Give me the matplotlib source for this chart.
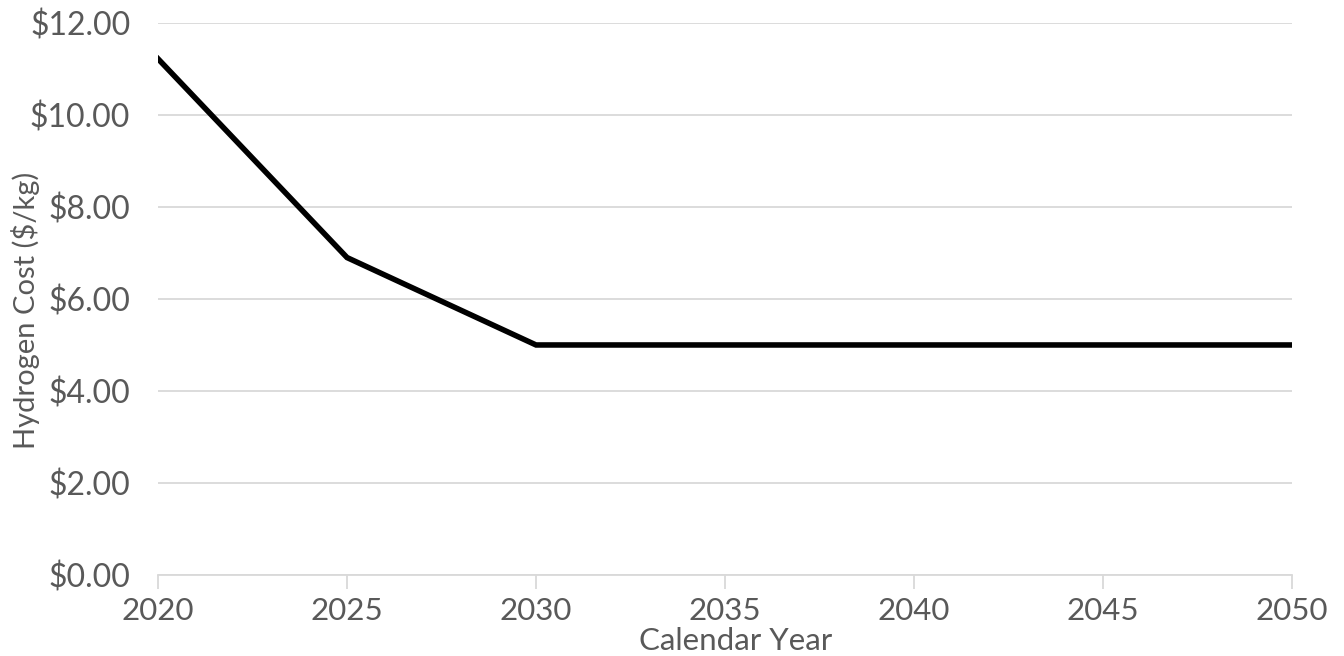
import numpy as np
import matplotlib.pyplot as plt

# Data
years = [2020, 2025, 2030, 2035, 2040, 2045, 2050]
cost = [11.22, 6.90, 5.00, 5.00, 5.00, 5.00, 5.00]
y_ticks = [0, 2, 4, 6, 8, 10, 12]
x_ticks = [2020, 2025, 2030, 2035, 2040, 2045, 2050]

plt.rcParams['font.family'] = ['Lato', 'DejaVu Sans']
text_color = '#595959'
grid_color = '#d9d9d9'

fig = plt.figure(figsize=(13.44, 6.56), dpi=100)
ax = fig.add_axes([0.1176, 0.1235, 0.8437, 0.8415])

ax.plot(years, cost, color='black', linewidth=4, solid_joinstyle='miter', zorder=3)

ax.set_xlim(2020, 2050)
ax.set_ylim(0, 12)
ax.set_xticks(x_ticks)
ax.set_yticks(y_ticks)
ax.set_yticklabels(['${:.2f}'.format(v) for v in y_ticks])

ax.grid(axis='y', color=grid_color, linewidth=1.3)
ax.set_axisbelow(True)
for s in ['top', 'right', 'left']:
    ax.spines[s].set_visible(False)
ax.spines['bottom'].set_color(grid_color)
ax.spines['bottom'].set_linewidth(1.3)

ax.tick_params(axis='x', colors=grid_color, length=10, width=1.3, labelcolor=text_color,
               labelsize=22.5, pad=6)
ax.tick_params(axis='y', length=0, labelcolor=text_color, labelsize=23, pad=20)

ax.set_xlabel('Calendar Year', fontsize=22.5, color=text_color)
ax.xaxis.set_label_coords(0.509, -0.095)
ax.set_ylabel('Hydrogen Cost ($/kg)', fontsize=21, color=text_color)
ax.yaxis.set_label_coords(-0.104, 0.48)

fig.savefig('out.png', dpi=100)
